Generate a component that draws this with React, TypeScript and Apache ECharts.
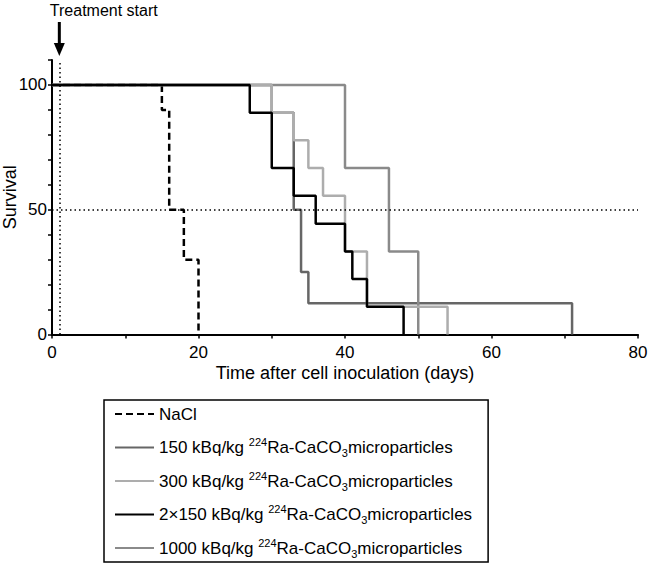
import React, { useEffect, useRef } from "react";
import * as echarts from "echarts";

const FONT = "'Liberation Sans', Arial, Helvetica, sans-serif";

// Kaplan–Meier step data (day of event, survival % after event)
const naclDays = [0, 15, 16, 18, 20];
const naclSurv = [100, 90, 50, 30, 0];

const d150Days = [0, 30, 33, 34, 35, 71];
const d150Surv = [100, 88.9, 50, 25, 12.5, 0];

const d300Days = [0, 30, 33, 35, 37, 40, 43, 54];
const d300Surv = [100, 88.9, 77.8, 66.7, 55.6, 33.3, 11.1, 0];

const d2x150Days = [0, 27, 30, 33, 36, 40, 41, 43, 48];
const d2x150Surv = [100, 88.9, 66.7, 55.6, 44.4, 33.3, 22.2, 11.1, 0];

const d1000Days = [0, 40, 46, 50];
const d1000Surv = [100, 66.7, 33.3, 0];

const seriesNames = ["NaCl", "150", "300", "2x150", "1000"];
const legendLabels: Record<string, string> = {
  NaCl: "NaCl",
  "150": "150 kBq/kg {sup|224}Ra-CaCO{sub|3}microparticles",
  "300": "300 kBq/kg {sup|224}Ra-CaCO{sub|3}microparticles",
  "2x150": "2×150 kBq/kg {sup|224}Ra-CaCO{sub|3}microparticles",
  "1000": "1000 kBq/kg {sup|224}Ra-CaCO{sub|3}microparticles",
};

const xTitle = "Time after cell inoculation (days)";
const yTitle = "Survival";
const annotation = "Treatment start";
const treatmentDay = 1;
const refSurvival = 50;

const pairs = (d: number[], s: number[]) => d.map((x, i) => [x, s[i]]);

export default function App() {
  const ref = useRef<HTMLDivElement>(null);
  useEffect(() => {
    if (!ref.current) return;
    const chart = echarts.init(ref.current, null, { renderer: "svg" });
    const line = (name: string, d: number[], s: number[], color: string, width: number, type: any = "solid") => ({
      name,
      type: "line",
      step: "end",
      symbol: "none",
      data: pairs(d, s),
      lineStyle: { color, width, type },
      itemStyle: { color },
      emphasis: { disabled: true },
    });
    chart.setOption({
      animation: false,
      backgroundColor: "#ffffff",
      textStyle: { fontFamily: FONT, color: "#000" },
      grid: { left: 52, right: 11, top: 60, bottom: 230.5, containLabel: false, outerBoundsMode: "none" },
      xAxis: {
        type: "value",
        min: 0,
        max: 80,
        interval: 10,
        axisLine: { show: true, onZero: false, lineStyle: { color: "#000", width: 2 } },
        axisTick: { show: true, length: 4, lineStyle: { color: "#000", width: 1.5 } },
        axisLabel: {
          color: "#000",
          fontSize: 17,
          fontFamily: FONT,
          margin: 9,
          formatter: (v: number) => (v % 20 === 0 ? String(v) : ""),
        },
        splitLine: { show: false },
        name: xTitle,
        nameLocation: "middle",
        nameGap: 29,
        nameTextStyle: { fontSize: 18, color: "#000", fontFamily: FONT },
      },
      yAxis: {
        type: "value",
        min: 0,
        max: 110,
        interval: 10,
        axisLine: { show: true, onZero: false, lineStyle: { color: "#000", width: 2 } },
        axisTick: { show: true, length: 4, lineStyle: { color: "#000", width: 1.5 } },
        axisLabel: {
          color: "#000",
          fontSize: 17,
          fontFamily: FONT,
          margin: 5,
          formatter: (v: number) => (v % 50 === 0 && v <= 100 ? String(v) : ""),
        },
        splitLine: { show: false },
        name: yTitle,
        nameLocation: "middle",
        nameGap: 33,
        nameMoveOverlap: false,
        nameTextStyle: { fontSize: 18, color: "#000", fontFamily: FONT },
      },
      legend: {
        show: true,
        orient: "vertical",
        left: 104,
        top: 400,
        data: seriesNames,
        itemWidth: 39,
        itemHeight: 12,
        itemGap: 11.5,
        padding: [3, 16, 3, 10],
        borderColor: "#000",
        borderWidth: 1.5,
        borderRadius: 0,
        selectedMode: false,
        itemStyle: { opacity: 0, borderWidth: 0 },
        formatter: (name: string) => legendLabels[name] ?? name,
        textStyle: {
          fontSize: 17,
          color: "#000",
          fontFamily: FONT,
          lineHeight: 22,
          rich: {
            sup: { fontSize: 11, lineHeight: 11, verticalAlign: "top", color: "#000", fontFamily: FONT },
            sub: { fontSize: 11, lineHeight: 11, verticalAlign: "bottom", color: "#000", fontFamily: FONT },
          },
        },
      },
      series: [
        line("NaCl", naclDays, naclSurv, "#000000", 2.5, [7, 4]),
        line("150", d150Days, d150Surv, "#666666", 2.5),
        line("1000", d1000Days, d1000Surv, "#8a8a8a", 2.5),
        line("300", d300Days, d300Surv, "#adadad", 2.5),
        line("2x150", d2x150Days, d2x150Surv, "#000000", 2.5),
        {
          name: "reference",
          type: "line",
          data: [],
          symbol: "none",
          markLine: {
            silent: true,
            symbol: ["none", "none"],
            label: { show: false },
            lineStyle: { color: "#000", width: 1.5, type: [1.5, 3] },
            emphasis: { disabled: true },
            data: [{ xAxis: treatmentDay }, { yAxis: refSurvival }],
          },
        },
      ],
    });
    const px = chart.convertToPixel({ xAxisIndex: 0 }, treatmentDay) as number;
    const topY = chart.convertToPixel({ yAxisIndex: 0 }, 110) as number;
    chart.setOption({
      graphic: [
        {
          type: "line",
          shape: { x1: px, y1: topY - 38, x2: px, y2: topY - 14 },
          style: { stroke: "#000", lineWidth: 3 },
        },
        {
          type: "polygon",
          shape: { points: [[px - 5.5, topY - 17], [px + 5.5, topY - 17], [px, topY - 4]] },
          style: { fill: "#000" },
        },
        {
          type: "text",
          x: px - 9.5,
          y: topY - 50,
          style: {
            text: annotation,
            fontSize: 16,
            fontFamily: FONT,
            fill: "#000",
            align: "left",
            verticalAlign: "middle",
          },
        },
      ],
    });
    return () => chart.dispose();
  }, []);
  return (
    <div
      ref={ref}
      style={{ position: "absolute", left: 0, top: 0, width: 649, height: 565, background: "#fff" }}
    />
  );
}
